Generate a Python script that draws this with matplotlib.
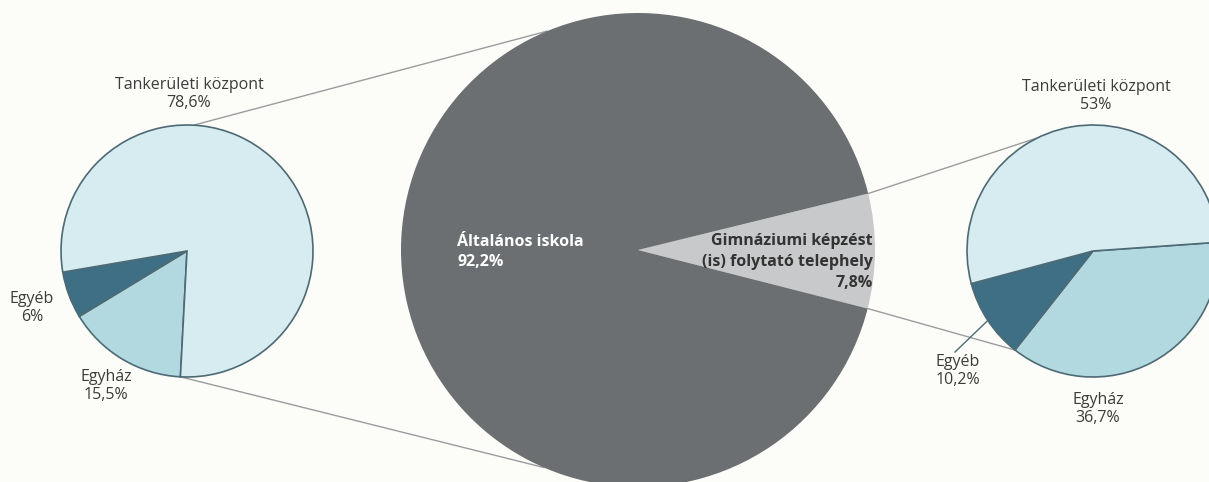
import numpy as np
import matplotlib
matplotlib.use("Agg")
import matplotlib.pyplot as plt

# ---- data ----
main_labels = ["Gimnáziumi képzést\n(is) folytató telephely", "Általános iskola"]
main_values = [7.8, 92.2]
main_texts = ["7,8%", "92,2%"]

left_labels = ["Egyház", "Egyéb", "Tankerületi központ"]
left_values = [15.5, 6.0, 78.6]
left_texts = ["15,5%", "6%", "78,6%"]

right_labels = ["Egyház", "Egyéb", "Tankerületi központ"]
right_values = [36.7, 10.2, 53.0]
right_texts = ["36,7%", "10,2%", "53%"]

# ---- style ----
W, H = 1209, 482
BG = "#fcfcf8"
C_MAIN = ["#c8c9ca", "#6c6f71"]
C_SUB = ["#b2d9df", "#3f6f84", "#d6ecf0"]
EDGE = "#4e6a74"
LINE = "#9a9d9f"
TXT = "#3c3c3c"
plt.rcParams['font.family'] = ['Open Sans', 'DejaVu Sans']

fig = plt.figure(figsize=(W / 100, H / 100), dpi=100, facecolor=BG)
ax = fig.add_axes([0, 0, 1, 1])
ax.set_facecolor(BG)

def Y(y):  # convert image y (top-down) to axis y
    return H - y

main_c, main_r = (638, Y(250)), 237
left_c, left_r = (187, Y(251)), 126
right_c, right_r = (1093, Y(251)), 126

main_start = -14.3
ax.pie(main_values, colors=C_MAIN, startangle=main_start, counterclock=True,
       center=main_c, radius=main_r, wedgeprops=dict(linewidth=0), frame=True)

left_start = 267
ax.pie(left_values, colors=C_SUB, startangle=left_start, counterclock=False,
       center=left_c, radius=left_r, wedgeprops=dict(edgecolor=EDGE, linewidth=1.2), frame=True)

right_start = 4
ax.pie(right_values, colors=C_SUB, startangle=right_start, counterclock=False,
       center=right_c, radius=right_r, wedgeprops=dict(edgecolor=EDGE, linewidth=1.2), frame=True)

def pt(c, r, ang):
    a = np.radians(ang)
    return c[0] + r * np.cos(a), c[1] + r * np.sin(a)

# wedge boundary angles
g_lo = main_start
g_hi = main_start + main_values[0] * 3.6
r_b1 = right_start - right_values[0] * 3.6  # Egyház/Egyéb boundary
r_b2 = r_b1 - right_values[1] * 3.6

segs = [
    (pt(left_c, left_r, 87), pt(main_c, main_r, 112.6)),
    (pt(left_c, left_r, left_start), pt(main_c, main_r, 246.6)),
    (pt(main_c, main_r, g_hi), pt(right_c, right_r, 116)),
    (pt(main_c, main_r, g_lo), pt(right_c, right_r, r_b1)),
]
for (x0, y0), (x1, y1) in segs:
    ax.plot([x0, x1], [y0, y1], color=LINE, lw=1.0, zorder=0.5)

# Egyéb leader on right pie
ex, ey = pt(right_c, right_r + 1, (r_b1 + r_b2) / 2)
ax.plot([ex, 955], [ey, Y(352)], color=EDGE, lw=1.0)

fs = 11.5
ls = 1.15
def lab(x, y, s, ha="center"):
    ax.text(x, Y(y), s, ha=ha, va="center", fontsize=fs, color=TXT, linespacing=ls,
            multialignment="center")

# left labels
lab(189, 94, "Tankerületi központ\n" + left_texts[2])
lab(32, 308, left_labels[1] + "\n" + left_texts[1])
lab(106, 386, left_labels[0] + "\n" + left_texts[0])
# right labels
lab(1096, 96, "Tankerületi központ\n" + right_texts[2])
lab(958, 371, right_labels[1] + "\n" + right_texts[1])
lab(1098, 409, right_labels[0] + "\n" + right_texts[0])
# main labels
ax.text(457, Y(252), "Általános iskola\n92,2%", ha="left", va="center", fontsize=fs, color="white",
        fontweight="bold", linespacing=1.4)
ax.text(873, Y(262), "Gimnáziumi képzést\n(is) folytató telephely\n7,8%", ha="right", va="center",
        fontsize=fs, color="#333333", fontweight="bold", linespacing=1.4, multialignment="right")

ax.set_xlim(0, W)
ax.set_ylim(0, H)
ax.set_aspect("equal")
ax.axis("off")
fig.savefig("out.png", dpi=100, facecolor=BG)
